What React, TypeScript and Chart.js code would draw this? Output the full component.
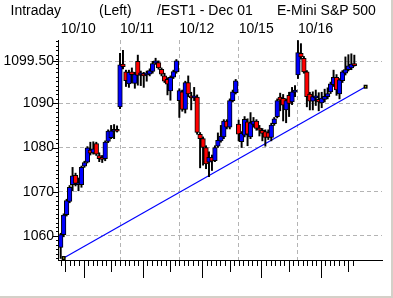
import React, { useEffect, useRef } from 'react';
import { Chart, registerables } from 'chart.js';

Chart.register(...registerables);

// ---------- data ----------
const titleParts = ['Intraday', '(Left)', '/EST1 - Dec 01', 'E-Mini S&P 500'];
const dayLabels = ['10/10', '10/11', '10/12', '10/15', '10/16'];
const dayStartBars = [0, 20, 40, 60, 80];
const yLabelValues = [1060, 1070, 1080, 1090, 1099.5];
const yLabelTexts = ['1060', '1070', '1080', '1090', '1099.50'];

const opens = [
  1057.4, 1060.3, 1064.8, 1067.8, 1071.6, 1073.7, 1071.6, 1071.6, 1075.8, 1076.7, 1079.4, 1078.8, 1080.9, 1078.2, 1077.8, 1077.5, 1081.4, 1082.2, 1083.7, 1084.1,
  1089.2, 1098.9, 1097.1, 1094.4, 1097.1, 1094.5, 1099.5, 1096.4, 1096.7, 1096.4, 1096.6, 1097.2, 1099.1, 1099.2, 1097.7, 1096.2, 1095.4, 1092.8, 1095.9, 1097.1,
  1090.6, 1092.6, 1088.6, 1094.7, 1091.7, 1091.2, 1091.4, 1083.0, 1082.0, 1080.0, 1076.7, 1077.8, 1077.0, 1080.3, 1081.5, 1082.4, 1086.0, 1084.6, 1090.6, 1092.4,
  1085.3, 1081.3, 1082.8, 1085.8, 1082.4, 1085.2, 1086.0, 1084.4, 1083.9, 1083.6, 1083.4, 1082.3, 1085.4, 1087.0, 1091.4, 1091.1, 1088.5, 1091.8, 1090.3, 1092.5,
  1096.4, 1101.3, 1100.2, 1097.1, 1092.1, 1090.5, 1091.2, 1090.9, 1090.1, 1090.9, 1091.5, 1092.6, 1094.2, 1095.9, 1092.1, 1095.1, 1096.8, 1097.6, 1098.0, 1099.0,
];
const closes = [
  1060.3, 1064.7, 1068.0, 1071.0, 1073.6, 1071.9, 1072.0, 1075.5, 1076.6, 1079.9, 1078.7, 1079.7, 1078.5, 1077.5, 1077.3, 1081.2, 1083.7, 1083.8, 1084.1, 1083.7,
  1098.7, 1098.3, 1095.1, 1097.0, 1096.5, 1096.6, 1096.3, 1096.9, 1096.2, 1096.9, 1097.4, 1099.0, 1099.6, 1098.0, 1096.6, 1095.0, 1094.3, 1095.9, 1097.2, 1099.6,
  1092.9, 1088.6, 1094.7, 1092.1, 1091.2, 1091.7, 1083.4, 1082.0, 1080.0, 1076.3, 1077.8, 1076.9, 1080.0, 1081.6, 1082.6, 1086.0, 1084.6, 1090.6, 1092.6, 1095.1,
  1083.0, 1083.2, 1086.4, 1083.0, 1085.6, 1086.0, 1084.3, 1083.9, 1083.2, 1082.3, 1082.3, 1085.1, 1086.5, 1090.6, 1090.7, 1089.6, 1090.6, 1090.0, 1092.6, 1093.0,
  1101.5, 1100.5, 1097.1, 1091.5, 1090.5, 1091.5, 1091.7, 1090.3, 1091.2, 1091.6, 1092.2, 1094.4, 1095.9, 1093.0, 1095.3, 1097.1, 1097.6, 1098.5, 1098.9, 1098.5,
];
const highs = [
  1060.6, 1065.0, 1068.3, 1071.4, 1075.5, 1074.2, 1073.1, 1075.8, 1076.9, 1080.2, 1081.2, 1081.3, 1081.2, 1078.8, 1078.2, 1081.5, 1084.0, 1085.0, 1085.2, 1084.9,
  1101.3, 1102.0, 1097.5, 1097.5, 1098.0, 1097.0, 1100.9, 1097.3, 1097.0, 1097.3, 1097.8, 1099.5, 1100.2, 1099.6, 1098.0, 1096.8, 1095.8, 1096.2, 1097.5, 1099.9,
  1093.3, 1093.0, 1095.0, 1096.2, 1092.5, 1093.6, 1091.9, 1083.4, 1082.4, 1080.4, 1079.0, 1078.3, 1080.4, 1083.3, 1085.0, 1086.3, 1086.3, 1091.0, 1093.0, 1095.4,
  1086.2, 1083.6, 1087.0, 1086.5, 1087.9, 1086.8, 1086.3, 1085.0, 1084.3, 1084.0, 1084.0, 1085.5, 1086.8, 1091.0, 1092.3, 1092.0, 1091.0, 1092.5, 1093.6, 1094.0,
  1104.2, 1103.5, 1100.6, 1097.4, 1092.5, 1092.6, 1093.0, 1092.4, 1092.5, 1093.2, 1093.5, 1094.8, 1097.5, 1096.5, 1095.6, 1097.4, 1100.5, 1101.0, 1101.2, 1100.9,
];
const lows = [
  1054.9, 1059.8, 1064.5, 1067.5, 1070.2, 1071.3, 1070.2, 1071.0, 1075.5, 1076.5, 1078.3, 1078.5, 1078.2, 1076.8, 1076.6, 1077.0, 1081.1, 1082.0, 1082.0, 1083.5,
  1088.8, 1097.8, 1093.8, 1093.6, 1094.6, 1093.4, 1094.1, 1094.0, 1093.6, 1095.0, 1096.2, 1096.8, 1098.8, 1097.7, 1096.2, 1094.7, 1091.9, 1090.7, 1095.6, 1096.8,
  1086.8, 1088.2, 1087.8, 1091.5, 1088.5, 1090.6, 1083.0, 1075.4, 1076.0, 1075.2, 1073.4, 1074.8, 1076.8, 1080.0, 1081.2, 1082.0, 1084.2, 1084.2, 1090.3, 1092.1,
  1081.5, 1080.0, 1082.4, 1080.4, 1082.0, 1084.6, 1083.9, 1082.6, 1081.5, 1080.3, 1081.8, 1081.5, 1085.0, 1086.7, 1088.3, 1086.0, 1085.6, 1087.0, 1089.7, 1091.5,
  1095.6, 1100.0, 1096.8, 1089.2, 1088.5, 1088.5, 1089.5, 1088.3, 1089.0, 1090.3, 1091.0, 1092.2, 1093.8, 1091.8, 1091.0, 1094.7, 1096.4, 1097.3, 1097.6, 1098.4,
];

// trend line anchors (bar position, price)
const trendBars = [1.0, 102.8];
const trendPrices = [1055.0, 1093.75];

// ---------- layout constants ----------
const X_MIN = -0.91;
const X_MAX = 108.33;
const Y_MIN = 1054.55;
const Y_MAX = 1104.32;
const TICKS_PER_DAY = 13;
const BARS_PER_DAY = 20;

const xTickValues: number[] = [];
for (let k = 0; k <= 64; k++) xTickValues.push((k * BARS_PER_DAY) / TICKS_PER_DAY);
const yTickValues: number[] = [];
for (let v = 1055; v <= 1104; v++) {
  yTickValues.push(v);
  if (v === 1099) yTickValues.push(1099.5);
}

const isDayStart = (v: number) =>
  dayStartBars.some((d) => d > 0 && Math.abs(v - d) < 1e-6);

const decorPlugin = {
  id: 'decor',
  beforeDraw(chart: any) {
    const { ctx, width, height } = chart;
    ctx.save();
    ctx.fillStyle = '#ffffff';
    ctx.fillRect(0, 0, width, height);
    ctx.fillStyle = '#d4d0c8';
    ctx.fillRect(width - 2, 0, 2, height);
    ctx.fillRect(0, height - 2, width, 2);
    ctx.restore();
  },
  afterDraw(chart: any) {
    const { ctx, chartArea } = chart;
    const xs = chart.scales.x;
    const ys = chart.scales.y;
    ctx.save();
    ctx.strokeStyle = '#000';
    ctx.lineWidth = 1;
    ctx.beginPath();
    xs.ticks.forEach((t: any, k: number) => {
      const px = Math.round(xs.getPixelForValue(t.value)) + 0.5;
      const m = k % TICKS_PER_DAY;
      const len = m === 5 ? 17 : m === 11 || k === 1 ? 11 : 5;
      ctx.moveTo(px, chartArea.bottom + 1);
      ctx.lineTo(px, chartArea.bottom + 1 + len);
    });
    ys.ticks.forEach((t: any) => {
      const py = Math.round(ys.getPixelForValue(t.value)) + 0.5;
      const len = yLabelValues.includes(t.value) ? 5 : 2;
      ctx.moveTo(chartArea.left, py);
      ctx.lineTo(chartArea.left - len, py);
    });
    ctx.stroke();
    ctx.fillStyle = '#000';
    ctx.font = '14px "Liberation Sans"';
    ctx.textBaseline = 'alphabetic';
    ctx.textAlign = 'left';
    const titleX = [10.5, 99, 157, 277];
    titleParts.forEach((s, i) => ctx.fillText(s, titleX[i], 15));
    ctx.restore();
  },
};

export default function App() {
  const ref = useRef<HTMLCanvasElement>(null);

  useEffect(() => {
    if (!ref.current) return;
    const bodyData = opens.map((o, i) => ({ x: i, y: [o, closes[i]] }));
    const wickData = lows.map((l, i) => ({ x: i, y: [l, highs[i]] }));
    const bodyColors = opens.map((o, i) => (closes[i] >= o ? '#0000ff' : '#ff0000'));
    const trendData = trendBars.map((x, i) => ({ x, y: trendPrices[i] }));

    const chart = new Chart(ref.current, {
      type: 'bar',
      data: {
        datasets: [
          {
            type: 'line',
            data: trendData,
            borderColor: '#0000ff',
            borderWidth: 1.2,
            pointStyle: 'rect',
            pointRadius: 2.8,
            pointBackgroundColor: '#000',
            pointBorderWidth: 0,
            order: 4,
            clip: false,
          } as any,
          {
            type: 'line',
            data: trendData,
            showLine: false,
            pointStyle: 'rect',
            pointRadius: 0.8,
            pointBackgroundColor: '#ffff00',
            pointBorderWidth: 0,
            order: 1,
            clip: false,
          } as any,
          {
            data: wickData,
            backgroundColor: '#000',
            borderWidth: 0,
            barThickness: 1.3,
            grouped: false,
            order: 3,
          } as any,
          {
            data: bodyData,
            backgroundColor: bodyColors,
            borderColor: '#000',
            borderWidth: 1,
            borderSkipped: false,
            barThickness: 4.6,
            grouped: false,
            order: 2,
          } as any,
        ],
      },
      options: {
        animation: false,
        responsive: false,
        devicePixelRatio: 1,
        layout: { padding: { left: 0, right: 11, top: 0, bottom: 0 } },
        plugins: { legend: { display: false }, tooltip: { enabled: false } },
        scales: {
          x: {
            type: 'linear',
            position: 'bottom',
            min: X_MIN,
            max: X_MAX,
            offset: false,
            afterBuildTicks: (s: any) => {
              s.ticks = xTickValues.map((v) => ({ value: v }));
            },
            afterFit: (s: any) => {
              s.height = 38;
            },
            ticks: { display: false, autoSkip: false },
            grid: {
              offset: false,
              drawTicks: false,
              lineWidth: 1,
              color: (c: any) => (c.tick && isDayStart(c.tick.value) ? '#b4b4b4' : 'rgba(0,0,0,0)'),
            },
            border: { display: true, color: '#000', width: 1, dash: [4, 3] },
          },
          x2: {
            type: 'linear',
            position: 'top',
            min: X_MIN,
            max: X_MAX,
            offset: false,
            afterBuildTicks: (s: any) => {
              s.ticks = dayStartBars.map((v) => ({ value: v }));
            },
            afterFit: (s: any) => {
              s.height = 40;
            },
            ticks: {
              autoSkip: false,
              maxRotation: 0,
              align: 'start',
              padding: 2,
              color: '#000',
              font: { family: 'Liberation Sans', size: 14 },
              callback: (_v: any, i: number) => dayLabels[i],
            },
            grid: { display: false, drawTicks: false },
            border: { display: false },
          },
          y: {
            type: 'linear',
            position: 'left',
            min: Y_MIN,
            max: Y_MAX,
            beginAtZero: false,
            afterBuildTicks: (s: any) => {
              s.ticks = yTickValues.map((v) => ({ value: v }));
            },
            afterFit: (s: any) => {
              s.width = 58;
            },
            ticks: {
              autoSkip: false,
              padding: 4,
              color: '#000',
              font: { family: 'Liberation Sans', size: 14 },
              callback: (v: any) => {
                const idx = yLabelValues.indexOf(Number(v));
                return idx >= 0 ? yLabelTexts[idx] : '';
              },
            },
            grid: {
              drawTicks: false,
              lineWidth: 1,
              color: (c: any) => (c.tick && yLabelValues.includes(c.tick.value) ? '#b4b4b4' : 'rgba(0,0,0,0)'),
            },
            border: { display: true, color: '#000', width: 1, dash: [4, 3] },
          },
        },
      } as any,
      plugins: [decorPlugin],
    });
    return () => chart.destroy();
  }, []);

  return (
    <div style={{ position: 'fixed', left: 0, top: 0, width: 393, height: 298, background: '#fff' }}>
      <canvas ref={ref} width={393} height={298} style={{ display: 'block', width: 393, height: 298 }} />
    </div>
  );
}
